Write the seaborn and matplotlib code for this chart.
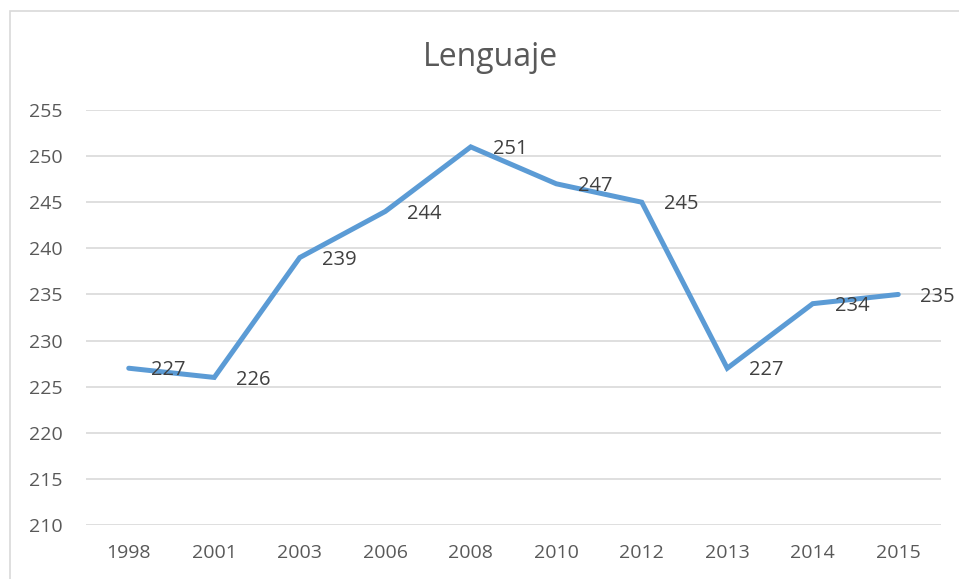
import pandas as pd
import matplotlib.pyplot as plt
import matplotlib.patches as mpatches
import seaborn as sns

# ── data ───────────────────────────────────────────────────────────────────────
years  = ["1998", "2001", "2003", "2006", "2008", "2010", "2012", "2013", "2014", "2015"]
scores = [227, 226, 239, 244, 251, 247, 245, 227, 234, 235]

df = pd.DataFrame({"year": years, "score": scores})

sns.set_theme(style="white")
plt.rcParams["font.family"] = ["Open Sans", "DejaVu Sans"]

TEXT = "#595959"
GRID = "#D9D9D9"
BLUE = "#5B9BD5"

fig = plt.figure(figsize=(9.59, 5.79), dpi=100)
ax = fig.add_axes([86 / 959, 1 - 525 / 579, 855 / 959, (525 - 110) / 579])

# chart frame (cropped on the right and bottom, like the reference)
fig.patches.append(mpatches.Rectangle((10 / 959, -0.1), 1.2, 1 - 11 / 579 + 0.1,
                                      transform=fig.transFigure, fill=False,
                                      edgecolor=GRID, linewidth=1.2))

sns.lineplot(data=df, x="year", y="score", color=BLUE, linewidth=3.6,
             sort=False, ax=ax, solid_capstyle="round", solid_joinstyle="miter")

for i, v in enumerate(scores):
    ax.annotate(str(v), (i, v), textcoords="offset points", xytext=(16, -1.5),
                ha="left", va="center", fontsize=14.5, color="#404040")

ax.set_xlim(-0.5, len(years) - 0.5)
ax.set_ylim(210, 255)
ax.set_yticks(range(210, 256, 5))
ax.grid(axis="y", color=GRID, linewidth=1.2)
ax.set_axisbelow(True)
for s in ax.spines.values():
    s.set_visible(False)
ax.tick_params(axis="y", length=0, pad=17, labelsize=14, labelcolor=TEXT)
ax.tick_params(axis="x", length=0, pad=14, labelsize=14, labelcolor=TEXT)
ax.set_xlabel("")
ax.set_ylabel("")

fig.text(490 / 959, 1 - 57 / 579, "Lenguaje", ha="center", va="center",
         fontsize=23, color=TEXT)

fig.savefig("out.png", dpi=100)
